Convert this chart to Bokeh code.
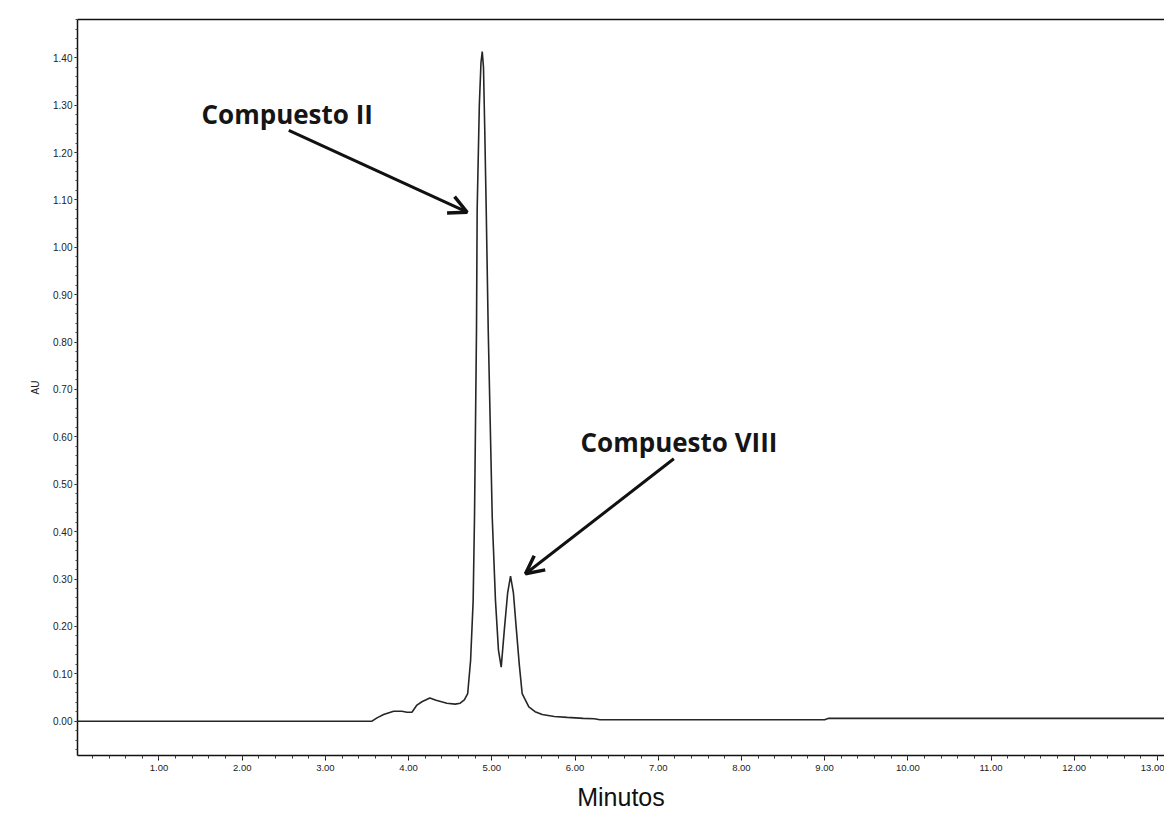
from bokeh.plotting import figure
from bokeh.models import (LinearAxis, FixedTicker, NumeralTickFormatter, Label,
                          Arrow, OpenHead, Range1d, ColumnDataSource)
from bokeh.embed import file_html
from bokeh.resources import INLINE

# ---- data ----
time_min = [0.02, 3.56, 3.62, 3.70, 3.82, 3.92, 3.98, 4.04, 4.10, 4.16, 4.255, 4.33,
            4.46, 4.56, 4.62, 4.67, 4.71, 4.745, 4.776, 4.792, 4.816, 4.824, 4.85,
            4.87, 4.885, 4.90, 4.915, 4.933, 4.957, 5.005, 5.044, 5.08, 5.113,
            5.153, 5.19, 5.225, 5.26, 5.293, 5.33, 5.365, 5.445, 5.52, 5.606,
            5.75, 5.906, 6.10, 6.23, 6.30, 9.00, 9.05, 13.18]
absorbance = [0.0, 0.0, 0.007, 0.014, 0.021, 0.021, 0.019, 0.019, 0.034, 0.041,
              0.049, 0.044, 0.038, 0.036, 0.038, 0.045, 0.058, 0.128, 0.255, 0.431,
              0.825, 1.078, 1.30, 1.39, 1.413, 1.38, 1.25, 1.078, 0.825, 0.431,
              0.255, 0.15, 0.114, 0.198, 0.27, 0.306, 0.27, 0.198, 0.12, 0.058,
              0.03, 0.02, 0.014, 0.010, 0.008, 0.006, 0.005, 0.003, 0.003, 0.006,
              0.006]

x_major_ticks = [1, 2, 3, 4, 5, 6, 7, 8, 9, 10, 11, 12, 13]
x_minor_ticks = [round(0.2 * i, 2) for i in range(1, 66)]
y_major_ticks = [0.0, 0.1, 0.2, 0.3, 0.4, 0.5, 0.6, 0.7, 0.8, 0.9, 1.0, 1.1, 1.2, 1.3, 1.4]
y_minor_ticks = [round(-0.06 + 0.02 * i, 2) for i in range(0, 78)]

peak_labels = ["Compuesto II", "Compuesto VIII"]
x_label = "Minutos"
y_label = "AU"

TICK_FONT = "Liberation Sans"

p = figure(width=1164, height=816, output_backend="svg", toolbar_location=None,
           x_range=Range1d(0.0205, 13.085), y_range=Range1d(-0.0724, 1.4807),
           x_axis_type=None, y_axis_type=None,
           min_border_left=77, min_border_right=0, min_border_top=19,
           min_border_bottom=61)
p.outline_line_color = None
p.background_fill_color = "white"
p.border_fill_color = "white"
p.xgrid.visible = False
p.ygrid.visible = False

src = ColumnDataSource(dict(t=time_min, a=absorbance))
p.line("t", "a", source=src, line_color="#262626", line_width=1.6)

# x axis
xa = LinearAxis(ticker=FixedTicker(ticks=x_major_ticks, minor_ticks=x_minor_ticks),
                formatter=NumeralTickFormatter(format="0.00"))
xa.axis_label = x_label
xa.axis_label_text_font = "Liberation Sans"
xa.axis_label_text_font_style = "normal"
xa.axis_label_text_font_size = "25px"
xa.axis_label_text_color = "#111111"
xa.axis_label_standoff = 9
xa.major_label_text_font = TICK_FONT
xa.major_label_text_font_size = "9.5px"
xa.major_label_text_color = "#222222"
xa.major_label_standoff = 4
xa.major_tick_in = 0
xa.major_tick_out = 5
xa.minor_tick_in = 0
xa.minor_tick_out = 3
xa.axis_line_color = "#111111"
xa.axis_line_width = 1.5
xa.major_tick_line_color = "#111111"
xa.minor_tick_line_color = "#333333"
p.add_layout(xa, "below")

# y axis
ya = LinearAxis(ticker=FixedTicker(ticks=y_major_ticks, minor_ticks=y_minor_ticks),
                formatter=NumeralTickFormatter(format="0.00"))
ya.axis_label = y_label
ya.axis_label_text_font = "Liberation Sans"
ya.axis_label_text_font_style = "normal"
ya.axis_label_text_font_size = "10px"
ya.axis_label_text_color = "#222222"
ya.axis_label_standoff = 9
ya.major_label_text_font = TICK_FONT
ya.major_label_text_font_size = "10px"
ya.major_label_text_color = "#222222"
ya.major_label_standoff = 2
ya.major_tick_in = 0
ya.major_tick_out = 3
ya.minor_tick_in = 0
ya.minor_tick_out = 2
ya.axis_line_color = "#111111"
ya.axis_line_width = 1.5
ya.major_tick_line_color = "#111111"
ya.minor_tick_line_color = "#444444"
p.add_layout(ya, "left")

# top frame line
ta = LinearAxis(ticker=FixedTicker(ticks=[]), major_label_text_font_size="0px")
ta.major_tick_out = 0
ta.minor_tick_out = 0
ta.axis_line_color = "#111111"
ta.axis_line_width = 1.5
p.add_layout(ta, "above")

# annotations
for text, (lx, ly) in zip(peak_labels, [(1.511, 1.2817), (6.066, 0.5887)]):
    p.add_layout(Label(x=lx, y=ly, text=text, text_font="Open Sans",
                       text_font_style="bold", text_font_size="26px",
                       text_color="#151515", text_baseline="alphabetic"))

for (x0, y0, x1, y1) in [(2.56, 1.2465, 4.704, 1.074), (7.188, 0.5537, 5.405, 0.311)]:
    p.add_layout(Arrow(x_start=x0, y_start=y0, x_end=x1, y_end=y1,
                       line_width=3, line_color="#111111",
                       end=OpenHead(size=18, line_width=3.5, line_color="#111111")))

open("out.html", "w").write(file_html(p, INLINE))
